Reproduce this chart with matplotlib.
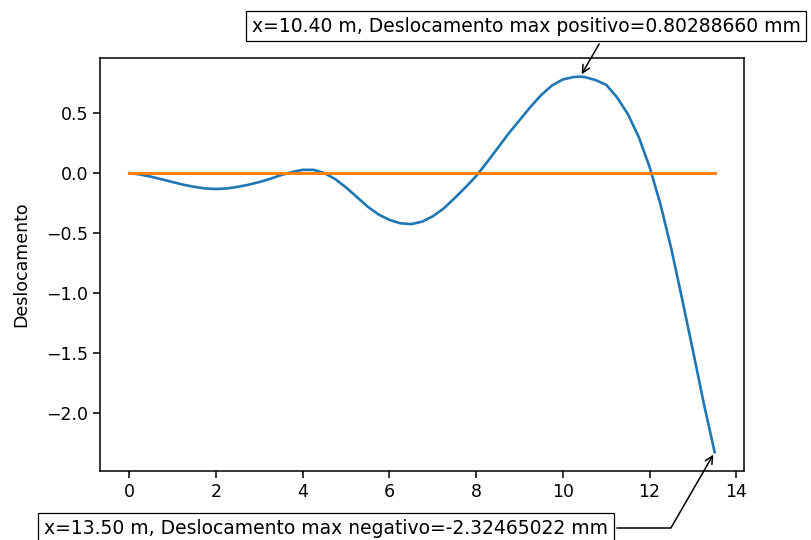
import matplotlib as mpl
import matplotlib.pyplot as plt

mpl.rcParams['font.size'] = 12.5
mpl.rcParams['axes.linewidth'] = 1.1
mpl.rcParams['xtick.major.size'] = 4.8
mpl.rcParams['ytick.major.size'] = 4.8
mpl.rcParams['xtick.major.width'] = 1.1
mpl.rcParams['ytick.major.width'] = 1.1

# posicao ao longo da viga (m) e deslocamento (mm)
pos = [0.0, 0.25, 0.5, 0.75, 1.0, 1.25, 1.5, 1.75, 2.0, 2.25, 2.5, 2.75,
       3.0, 3.25, 3.5, 3.75, 4.0, 4.25, 4.5, 4.75, 5.0, 5.25, 5.5, 5.75,
       6.0, 6.25, 6.5, 6.75, 7.0, 7.25, 7.5, 7.75, 8.0, 8.25, 8.5, 8.75,
       9.0, 9.25, 9.5, 9.75, 10.0, 10.25, 10.4, 10.5, 10.75, 11.0, 11.25,
       11.5, 11.75, 12.0, 12.25, 12.5, 12.75, 13.0, 13.25, 13.5]
desloc = [0.0, -0.012, -0.03, -0.052, -0.075, -0.097, -0.115, -0.128,
          -0.133, -0.128, -0.115, -0.097, -0.075, -0.048, -0.017, 0.008,
          0.027, 0.027, 0.0, -0.05, -0.12, -0.2, -0.28, -0.345, -0.39,
          -0.418, -0.425, -0.405, -0.36, -0.295, -0.21, -0.12, -0.025, 0.09,
          0.21, 0.33, 0.44, 0.55, 0.65, 0.73, 0.78, 0.8, 0.8028866, 0.80,
          0.775, 0.735, 0.63, 0.49, 0.3, 0.05, -0.26, -0.63, -1.05, -1.48,
          -1.92, -2.32465022]
zero = [0.0 for p in pos]

xmax, ymax = pos[desloc.index(max(desloc))], max(desloc)
xmin, ymin = pos[desloc.index(min(desloc))], min(desloc)

fig = plt.figure(figsize=(8.11, 5.40), dpi=100)
ax = fig.add_axes([0.1233, 0.1278, 0.794, 0.765])
ax.plot(pos, desloc, lw=1.9)
ax.plot(pos, zero, lw=2.1)
ax.set_ylabel("Deslocamento", labelpad=12)
ax.set_yticks([0.5, 0.0, -0.5, -1.0, -1.5, -2.0])
ax.set_xticks([0, 2, 4, 6, 8, 10, 12, 14])

bbox_props = dict(boxstyle="square,pad=0.3", fc="w", ec="k", lw=0.9)
arrowprops = dict(arrowstyle="->", color="k", lw=1.1,
                  connectionstyle="angle,angleA=0,angleB=60")
kw = dict(xycoords='data', textcoords="figure pixels", arrowprops=arrowprops,
          bbox=bbox_props, ha="center", va="center", fontsize=13.5)

ax.annotate("x={:.2f} m, Deslocamento max positivo={:.8f} mm".format(xmax, ymax),
            xy=(xmax, ymax), xytext=(526, 514), **kw)
ax.annotate("x={:.2f} m, Deslocamento max negativo={:.8f} mm".format(xmin, ymin),
            xy=(xmin, ymin), xytext=(326, 12), **kw)

fig.savefig("out.png", dpi=100)
